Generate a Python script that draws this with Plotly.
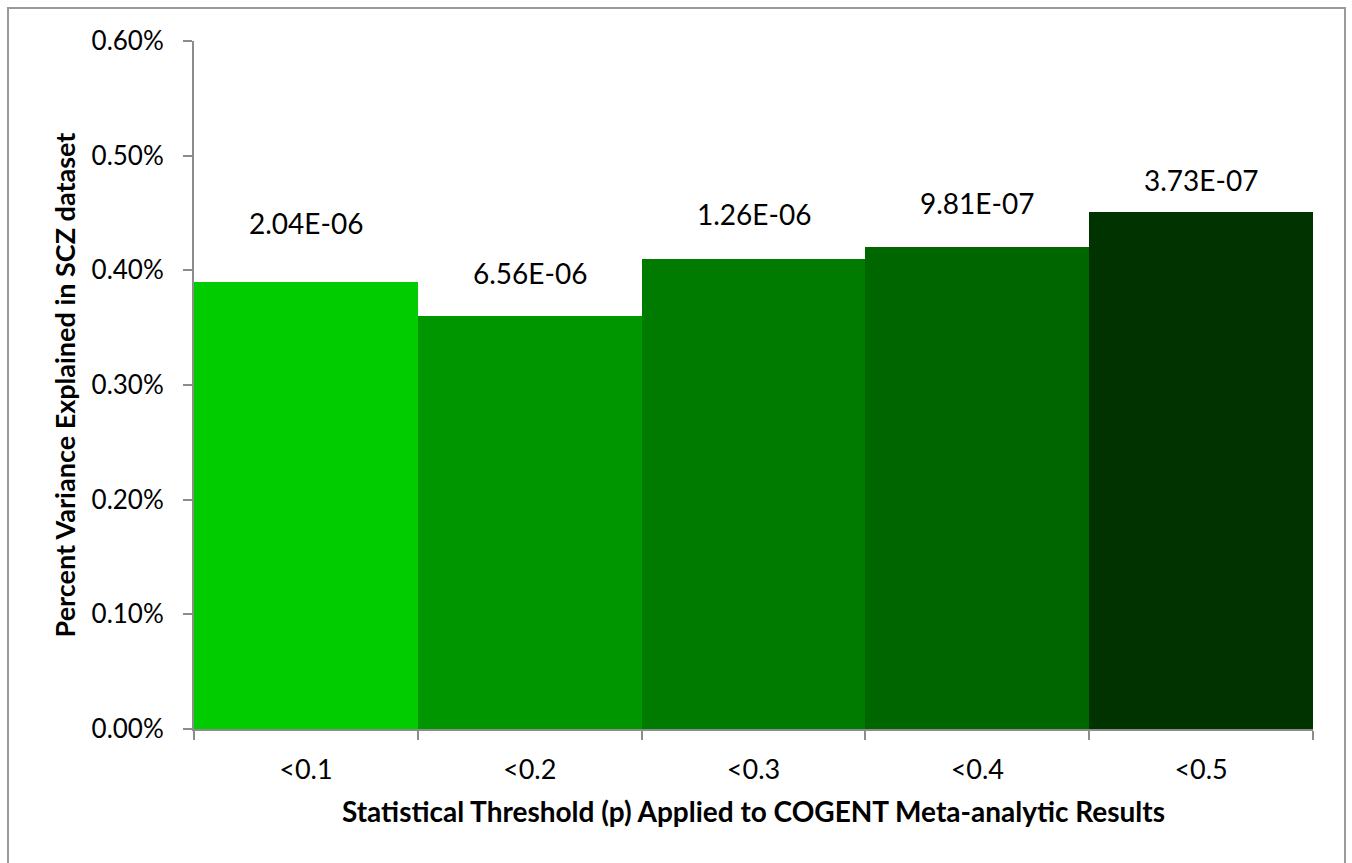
import plotly.graph_objects as go

categories = ["<0.1", "<0.2", "<0.3", "<0.4", "<0.5"]
variance_explained = [0.0039, 0.0036, 0.0041, 0.0042, 0.00451]
p_labels = ["2.04E-06", "6.56E-06", "1.26E-06", "9.81E-07", "3.73E-07"]
label_y = [0.00441, 0.00398, 0.00449, 0.00459, 0.00479]
bar_colors = ["#00CC00", "#009600", "#007B00", "#006600", "#003300"]

FONT = "Lato"
W, H = 1352, 863
L, R, T, B = 194, 39, 41, 134

fig = go.Figure()
fig.add_trace(go.Bar(
    x=categories, y=variance_explained,
    marker=dict(color=bar_colors, line=dict(width=0)),
    width=1.0, showlegend=False, hoverinfo="skip",
))

for c, lab, yy in zip(categories, p_labels, label_y):
    fig.add_annotation(x=c, y=yy, text=lab, showarrow=False,
                       font=dict(family=FONT, size=28, color="#000000"),
                       xanchor="center", yanchor="middle")

pw = W - L - R
ph = H - T - B
fig.add_shape(type="rect", xref="paper", yref="paper",
              x0=(8 - L) / pw, x1=(1345 - L) / pw,
              y0=(H - B - 900) / ph, y1=(H - B - 8) / ph,
              line=dict(color="#9a9a9a", width=2), fillcolor="rgba(0,0,0,0)",
              layer="below")

fig.update_layout(
    width=W, height=H,
    margin=dict(l=L, r=R, t=T, b=B, pad=0),
    paper_bgcolor="white", plot_bgcolor="white",
    bargap=0,
    font=dict(family=FONT, size=26, color="#000000"),
    xaxis=dict(
        title=dict(text="<b>Statistical Threshold (p) Applied to COGENT Meta-analytic Results</b>",
                   font=dict(family=FONT, size=28), standoff=18),
        showline=True, linecolor="#8c8c8c", linewidth=2,
        ticks="outside", tickson="boundaries", ticklen=9, tickcolor="#8c8c8c", tickwidth=2,
        showgrid=False, tickfont=dict(family=FONT, size=27),
        ticklabelstandoff=16,
        range=[-0.5, 4.5],
    ),
    yaxis=dict(
        title=dict(text="<b>Percent Variance Explained in SCZ dataset</b>",
                   font=dict(family=FONT, size=27), standoff=8),
        range=[0, 0.006], dtick=0.001, tickformat=".2%",
        showline=True, linecolor="#8c8c8c", linewidth=2,
        ticks="outside", ticklen=9, tickcolor="#8c8c8c", tickwidth=2,
        showgrid=False, zeroline=False, tickfont=dict(family=FONT, size=26),
        ticklabelstandoff=14,
    ),
)

fig.write_html("out.html", config={"displayModeBar": False},
               post_script="document.body.style.margin='0';")
